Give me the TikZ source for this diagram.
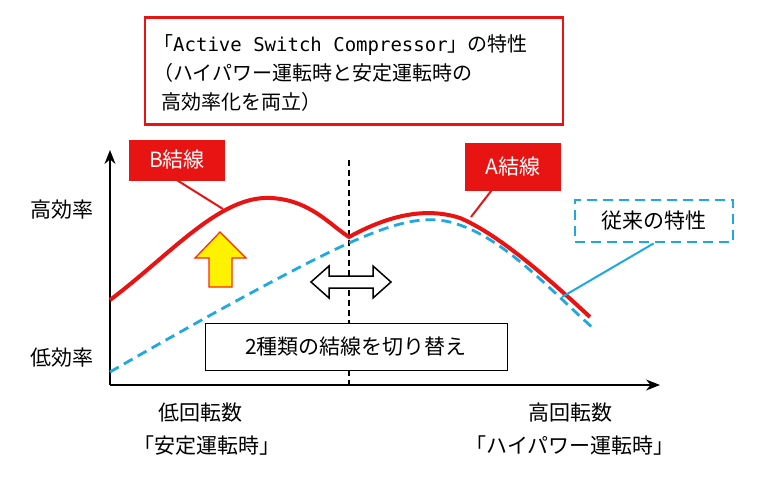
\documentclass[tikz,border=0pt]{standalone}
\usepackage{fontspec}
\setmainfont{Noto Sans CJK JP}
\usetikzlibrary{arrows.meta}
\definecolor{redA}{RGB}{232,20,20}
\definecolor{cyanB}{RGB}{30,170,225}
\tikzset{x=1pt,y=-1pt,
every node/.style={font=\fontsize{21}{25}\selectfont, inner sep=0pt},
redbox/.style={draw=redA, fill=redA, text=white, minimum width=95, minimum height=40},
leader/.style={line width=2pt},
axis/.style={line width=1.2pt, -{Stealth[length=14pt,width=11pt]}}}
\begin{document}
\begin{tikzpicture}
\useasboundingbox (0,0) rectangle (760,477);
% headline
\node[draw=redA, line width=2.8pt, minimum width=418, minimum height=107] (head) at (354,71) {};
\node[anchor=north west, align=left, font=\fontsize{20}{29}\selectfont] (headtext) at (153,34)
  {「{\fontspec{DejaVu Sans Mono}[Scale=0.95]Active Switch Compressor}」の特性\\（ハイパワー運転時と安定運転時の\\ \hspace*{8pt}高効率化を両立）};
% axes
\coordinate (o) at (110,385);
\coordinate (ytop) at (110,150);
\coordinate (xend) at (660,385);
\draw[axis] (o) -- (ytop);
\draw[axis] (o) -- (xend);
\coordinate (vtop) at (349,160);
\coordinate (vbot) at (349,385);
\draw[dash pattern=on 6pt off 4pt, line width=1.2pt] (vtop) -- (vbot);
% curves
\draw[cyanB, line width=2.8pt, dash pattern=on 10pt off 6pt] (110,372) .. controls (200,320) and (300,265) .. (349,243)
  .. controls (390,225) and (420,215) .. (450,222) .. controls (500,235) and (540,280) .. (595,330);
\draw[redA, line width=4pt] (110,300) .. controls (170,255) and (220,195) .. (271,198)
  .. controls (310,200) and (330,225) .. (349,237) .. controls (380,220) and (420,205) .. (460,218)
  .. controls (500,235) and (550,280) .. (590,317);
% labels boxes
\node[redbox] (bbox) at (177,160) {B結線};
\node[redbox, minimum height=47] (abox) at (513,167) {A結線};
\node[draw=cyanB, line width=2.8pt, dash pattern=on 10pt off 6pt, minimum width=158, minimum height=42] (conv) at (654,221) {従来の特性};
\node[draw, line width=1pt, fill=white, minimum width=302, minimum height=47] (sw) at (356,347) {2種類の結線を切り替え};
\coordinate (bpt) at (223,209);
\coordinate (apt) at (471,217);
\coordinate (cpt) at (562,297);
\draw[redA, leader] (bbox.south) -- (bpt);
\draw[redA, leader] (abox.south west) ++(26,0) coordinate (ast) -- (apt);
\draw[cyanB, leader] (conv.south west) ++(80,0) coordinate (cst) -- (cpt);
% arrows
\draw[draw=red!70!orange, fill=yellow, line width=1.2pt, line join=miter]
  (220,232) -- (246,258) -- (232,258) -- (232,287) -- (209,287) -- (209,258) -- (195,258) -- cycle;
\draw[fill=white, line width=1.5pt, line join=miter]
  (311,282) -- (329,266) -- (329,276) -- (373,276) -- (373,266) -- (391,282)
  -- (373,298) -- (373,288) -- (329,288) -- (329,298) -- cycle;
% axis texts
\node (hi) at (62,210) {高効率};
\node (lo) at (62,358) {低効率};
\node (lowr) at (200,413) {低回転数};
\node (lowm) at (207,446) {「安定運転時」};
\node (highr) at (570,413) {高回転数};
\node (highm) at (570,446) {「ハイパワー運転時」};
\end{tikzpicture}
\end{document}
